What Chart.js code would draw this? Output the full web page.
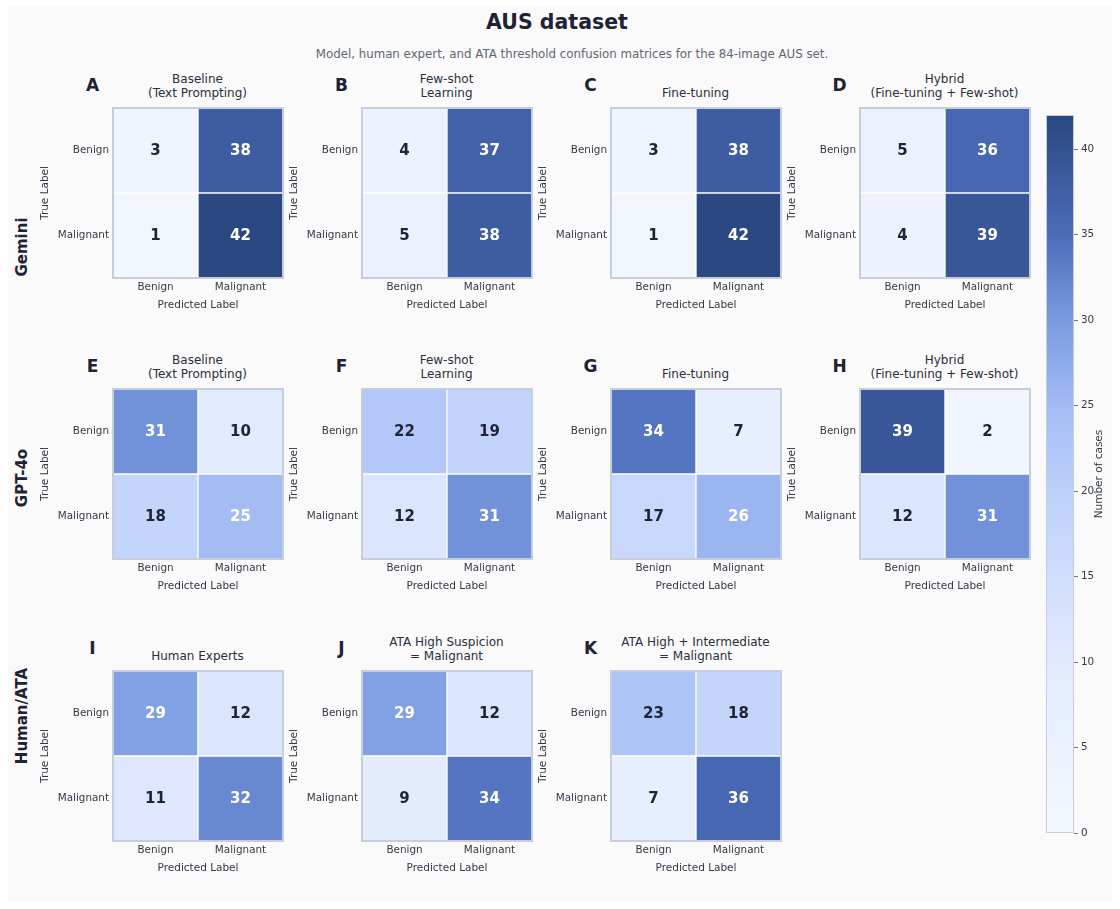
<!DOCTYPE html>
<html><head><meta charset="utf-8">
<script src="https://cdn.jsdelivr.net/npm/chart.js@4.4.1/dist/chart.umd.min.js"></script>
<style>
html,body{margin:0;padding:0;background:#ffffff;}
#root{position:relative;width:1120px;height:909px;overflow:hidden;font-family:"DejaVu Sans",sans-serif;}
#bg{position:absolute;left:8px;top:7px;width:1104px;height:894px;background:#fafafa;}
canvas{position:absolute;}
.txt{position:absolute;white-space:nowrap;color:#1f2433;}
</style></head><body><div id="root"><div id="bg"></div></div>
<script>
// ---------- data ----------
const classLabels = ['Benign', 'Malignant'];
const rowNames = ['Gemini', 'GPT-4o', 'Human/ATA'];
const panelLetters = ['A','B','C','D','E','F','G','H','I','J','K'];
const panelTitles = [
  ['Baseline','(Text Prompting)'], ['Few-shot','Learning'], ['Fine-tuning'], ['Hybrid','(Fine-tuning + Few-shot)'],
  ['Baseline','(Text Prompting)'], ['Few-shot','Learning'], ['Fine-tuning'], ['Hybrid','(Fine-tuning + Few-shot)'],
  ['Human Experts'], ['ATA High Suspicion','= Malignant'], ['ATA High + Intermediate','= Malignant']
];
// true Benign row
const benignPredBenign    = [3, 4, 3, 5, 31, 22, 34, 39, 29, 29, 23];
const benignPredMalignant = [38, 37, 38, 36, 10, 19, 7, 2, 12, 12, 18];
// true Malignant row
const malignantPredBenign    = [1, 5, 1, 4, 18, 12, 17, 12, 11, 9, 7];
const malignantPredMalignant = [42, 38, 42, 39, 25, 31, 26, 31, 32, 34, 36];
const colorbarMax = 42;
const colorbarTicks = [0, 5, 10, 15, 20, 25, 30, 35, 40];
const mainTitle = 'AUS dataset';
const subTitle = 'Model, human expert, and ATA threshold confusion matrices for the 84-image AUS set.';

// ---------- colour map ----------
const cmapStops = [
  [0, [244, 248, 255]], [10, [226, 234, 253]], [20, [189, 208, 251]], [25, [163, 188, 244]],
  [30, [122, 154, 224]], [35, [76, 108, 186]], [42, [43, 71, 127]]
];
function cmap(v) {
  for (let i = 1; i < cmapStops.length; i++) {
    const [v0, c0] = cmapStops[i-1], [v1, c1] = cmapStops[i];
    if (v <= v1) {
      const t = Math.max(0, (v - v0) / (v1 - v0));
      return 'rgb(' + c0.map((c, k) => Math.round(c + (c1[k] - c) * t)).join(',') + ')';
    }
  }
  const c = cmapStops[cmapStops.length-1][1];
  return 'rgb(' + c.join(',') + ')';
}

// ---------- layout ----------
const FONT = '"DejaVu Sans", sans-serif';
const COL_LEFT = [112.5, 361.5, 610.5, 859.5];
const ROW_TOP = [108.3, 389.3, 670.7];
const BOX = 170;
const ROW_LABEL_Y = [247, 478, 716];
const root = document.getElementById('root');

function addText(txt, css) {
  const d = document.createElement('div');
  d.className = 'txt';
  d.textContent = txt;
  Object.assign(d.style, css);
  root.appendChild(d);
  return d;
}

addText(mainTitle, {left: '0px', width: '1114px', top: '10px', lineHeight: '24px', textAlign: 'center', fontWeight: 'bold', fontSize: '20.5px', color: '#1e2235'});
addText(subTitle, {left: '272px', width: '600px', top: '46px', lineHeight: '16px', textAlign: 'center', fontSize: '11.8px', color: '#5f6673'});

rowNames.forEach((n, r) => {
  addText(n, {left: (22 - 60) + 'px', width: '120px', top: (ROW_LABEL_Y[r] - 10) + 'px', lineHeight: '20px', textAlign: 'center',
    fontWeight: 'bold', fontSize: '15px', color: '#1e2235', transform: 'rotate(-90deg)'});
});

const cellPlugin = {
  id: 'cellPlugin',
  afterDatasetsDraw(chart) {
    const ctx = chart.ctx;
    chart.data.datasets.forEach((ds, di) => {
      const meta = chart.getDatasetMeta(di);
      meta.data.forEach((bar, j) => {
        const v = ds.cellValues[j];
        const p = bar.getProps(['x', 'y', 'base'], true);
        ctx.save();
        ctx.font = 'bold 15px ' + FONT;
        ctx.fillStyle = v > 24 ? '#ffffff' : '#1f2433';
        ctx.textAlign = 'center';
        ctx.textBaseline = 'middle';
        ctx.fillText(String(v), p.x, (p.y + p.base) / 2 + 1);
        ctx.restore();
      });
    });
  },
  afterDraw(chart) {
    const a = chart.chartArea, ctx = chart.ctx;
    ctx.save();
    ctx.strokeStyle = '#c6cddb';
    ctx.lineWidth = 2;
    ctx.strokeRect(a.left, a.top, a.right - a.left, a.bottom - a.top);
    ctx.restore();
  }
};

function noPad(s) { s.paddingTop = 0; s.paddingBottom = 0; s.paddingLeft = 0; s.paddingRight = 0; }

panelLetters.forEach((letter, i) => {
  const r = Math.floor(i / 4), c = i % 4;
  const L = COL_LEFT[c], T = ROW_TOP[r];
  addText(letter, {left: (L - 30) + 'px', width: '20px', top: (T - 33) + 'px', lineHeight: '20px', textAlign: 'center',
    fontWeight: 'bold', fontSize: '17px', color: '#1e2235'});
  const lines = panelTitles[i];
  const t = addText('', {left: (L + 85 - 150) + 'px', width: '300px', top: (T - 8 - 14 * lines.length) + 'px', lineHeight: '14px',
    textAlign: 'center', fontSize: '12px', color: '#2a2f3b'});
  t.innerHTML = lines.map(s => s.replace(/&/g,'&amp;').replace(/</g,'&lt;')).join('<br>');

  const cv = document.createElement('canvas');
  const W = 80 + BOX + 4, H = 4 + BOX + 50;
  cv.width = W; cv.height = H;
  cv.style.left = (L - 80) + 'px'; cv.style.top = (T - 4) + 'px';
  cv.style.width = W + 'px'; cv.style.height = H + 'px';
  root.appendChild(cv);

  new Chart(cv, {
    type: 'bar',
    data: {
      labels: classLabels,
      datasets: [
        {label: classLabels[1], data: [1, 1], cellValues: [malignantPredBenign[i], malignantPredMalignant[i]],
         backgroundColor: [cmap(malignantPredBenign[i]), cmap(malignantPredMalignant[i])],
         borderColor: '#ffffff', borderWidth: 1, borderSkipped: false},
        {label: classLabels[0], data: [1, 1], cellValues: [benignPredBenign[i], benignPredMalignant[i]],
         backgroundColor: [cmap(benignPredBenign[i]), cmap(benignPredMalignant[i])],
         borderColor: '#ffffff', borderWidth: 1, borderSkipped: false}
      ]
    },
    options: {
      responsive: false, animation: false, devicePixelRatio: 1,
      layout: {padding: {top: 4, right: 4, bottom: 0, left: 0}},
      datasets: {bar: {barPercentage: 1, categoryPercentage: 1}},
      plugins: {legend: {display: false}, tooltip: {enabled: false}, title: {display: false}},
      scales: {
        x: {
          stacked: true, grid: {display: false, drawTicks: false, tickLength: 0}, border: {display: false},
          ticks: {padding: 3, color: '#333a46', font: {size: 10.4, family: FONT}},
          title: {display: true, text: 'Predicted Label', color: '#333a46', font: {size: 10.5, family: FONT}, padding: {top: 0, bottom: 16}},
          afterFit(s) { s.height = 50; noPad(s); }
        },
        y: {
          stacked: true, min: 0, max: 2, grid: {display: false, drawTicks: false, tickLength: 0}, border: {display: false},
          afterBuildTicks(s) { s.ticks = [{value: 0.5}, {value: 1.5}]; },
          ticks: {padding: 4, color: '#333a46', font: {size: 10.4, family: FONT},
                  callback: v => (v > 1 ? classLabels[0] : classLabels[1])},
          title: {display: true, text: 'True Label', color: '#333a46', font: {size: 10.5, family: FONT}, padding: {top: 6, bottom: 0}},
          afterFit(s) { s.width = 80; noPad(s); }
        }
      }
    },
    plugins: [cellPlugin]
  });
});

// ---------- colorbar ----------
(function () {
  const cv = document.createElement('canvas');
  const W = 84, H = 738;
  cv.width = W; cv.height = H;
  cv.style.left = '1036px'; cv.style.top = '105px';
  cv.style.width = W + 'px'; cv.style.height = H + 'px';
  root.appendChild(cv);
  const borderPlugin = {
    id: 'cbBorder',
    afterDraw(chart) {
      const a = chart.chartArea, ctx = chart.ctx;
      ctx.save(); ctx.strokeStyle = '#c6cddb'; ctx.lineWidth = 1;
      ctx.strokeRect(a.left + 0.5, a.top + 0.5, a.right - a.left - 1, a.bottom - a.top - 1);
      ctx.restore();
    }
  };
  new Chart(cv, {
    type: 'bar',
    data: {
      labels: [''],
      datasets: [{
        data: [[0, colorbarMax]], borderWidth: 0,
        backgroundColor(c) {
          const chart = c.chart;
          if (!chart.chartArea) return cmap(colorbarMax / 2);
          const y = chart.scales.y;
          const g = chart.ctx.createLinearGradient(0, y.getPixelForValue(0), 0, y.getPixelForValue(colorbarMax));
          for (let v = 0; v <= colorbarMax; v += 1) g.addColorStop(v / colorbarMax, cmap(v));
          return g;
        }
      }]
    },
    options: {
      responsive: false, animation: false, devicePixelRatio: 1,
      layout: {padding: {top: 10, right: 0, bottom: 10, left: 10}},
      datasets: {bar: {barPercentage: 1, categoryPercentage: 1}},
      plugins: {legend: {display: false}, tooltip: {enabled: false}},
      scales: {
        x: {display: false},
        y: {
          position: 'right', min: 0, max: colorbarMax,
          afterBuildTicks(s) { s.ticks = colorbarTicks.map(v => ({value: v})); },
          grid: {drawOnChartArea: false, drawTicks: true, tickLength: 4, color: '#555', lineWidth: 0.8},
          border: {display: false},
          ticks: {padding: 3, color: '#333a46', font: {size: 10.4, family: FONT}},
          afterFit(s) { s.width = 46; noPad(s); }
        }
      }
    },
    plugins: [borderPlugin]
  });
})();

addText('Number of cases', {left: (1098 - 60) + 'px', width: '120px', top: (474 - 8) + 'px', lineHeight: '16px', textAlign: 'center',
  fontSize: '10.5px', color: '#333a46', transform: 'rotate(-90deg)'});
</script></body></html>
